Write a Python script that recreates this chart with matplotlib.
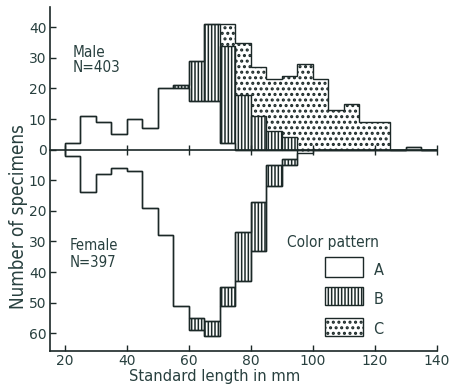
import numpy as np
import matplotlib
matplotlib.use('Agg')
import matplotlib.pyplot as plt
from matplotlib.patches import Rectangle
from matplotlib.ticker import FuncFormatter

# ---------------- data ----------------
bin_edges = [20, 25, 30, 35, 40, 45, 50, 55, 60, 65, 70, 75, 80, 85, 90, 95,
             100, 105, 110, 115, 120, 125, 130, 135, 140]
male_A = [2, 11, 9, 5, 10, 7, 20, 20, 16, 16, 2, 0, 0, 0, 0, 0, 0, 0, 0, 0, 0, 0, 1, 0]
male_B = [0, 0, 0, 0, 0, 0, 0, 1, 13, 25, 32, 18, 11, 6, 4, 0, 0, 0, 0, 0, 0, 0, 0, 0]
male_C = [0, 0, 0, 0, 0, 0, 0, 0, 0, 0, 7, 17, 16, 17, 20, 28, 23, 13, 15, 9, 9, 0, 0, 0]
female_A = [2, 14, 8, 6, 7, 19, 28, 51, 55, 56, 45, 27, 17, 5, 3, 0, 0, 0, 0, 0, 0, 0, 0, 0]
female_B = [0, 0, 0, 0, 0, 0, 0, 0, 4, 5, 6, 16, 16, 7, 2, 0, 0, 0, 0, 0, 0, 0, 0, 0]
female_C = [0, 0, 0, 0, 0, 0, 0, 0, 0, 0, 0, 0, 0, 0, 0, 1, 0, 0, 0, 0, 0, 0, 0, 0]
x_ticks = [20, 40, 60, 80, 100, 120, 140]
y_ticks = [-60, -50, -40, -30, -20, -10, 0, 10, 20, 30, 40]
pattern_names = ['A', 'B', 'C']
male_label = ['Male', 'N=403']
female_label = ['Female', 'N=397']

# ---------------- style ----------------
DARK = '#1b2827'
TXT = '#28403f'
HATCH_B = '|||||'
HATCH_C = '...'
LW_B = 1.1
LW_C = 1.45
plt.rcParams['hatch.color'] = DARK
plt.rcParams['hatch.linewidth'] = LW_B
plt.rcParams['font.family'] = ['DejaVu Sans']

W, H = 451, 389
fig = plt.figure(figsize=(W / 100, H / 100), dpi=100)
fig.patch.set_facecolor('white')
ax = fig.add_axes([50 / W, 1 - 351 / H, (436.7 - 50) / W, (351 - 7) / H])
ax.set_xlim(15.16, 140)
ax.set_ylim(-65.8, 46.6)

edges = np.array(bin_edges, float)
left = edges[:-1]
width = np.diff(edges)


def draw_sex(A, B, C, sign):
    A = np.array(A, float)
    B = np.array(B, float)
    C = np.array(C, float)
    m = C > 0
    plt.rcParams['hatch.linewidth'] = LW_C
    ax.bar(left[m], sign * C[m], width[m], bottom=sign * (A + B)[m], align='edge',
           color='white', edgecolor=DARK, linewidth=0, hatch=HATCH_C, zorder=2)
    plt.rcParams['hatch.linewidth'] = LW_B
    m = B > 0
    ax.bar(left[m], sign * B[m], width[m], bottom=sign * A[m], align='edge',
           color='white', edgecolor=DARK, linewidth=1.0, hatch=HATCH_B, zorder=3)
    ax.stairs(sign * A, edges, baseline=0, fill=False, color=DARK, lw=1.0, zorder=4)
    ax.stairs(sign * (A + B + C), edges, baseline=0, fill=False, color=DARK, lw=1.0, zorder=4)


draw_sex(male_A, male_B, male_C, 1)
draw_sex(female_A, female_B, female_C, -1)

# zero line with crossing ticks
xl = ax.get_xlim()
ax.plot([xl[0], xl[1]], [0, 0], color=DARK, lw=1.2, zorder=5, clip_on=False)
ax.plot(x_ticks, [0] * len(x_ticks), ls='none', marker='|', ms=7, mew=1.0,
        color=DARK, zorder=5, clip_on=False)

for s in ['top', 'right']:
    ax.spines[s].set_visible(False)
for s in ['left', 'bottom']:
    ax.spines[s].set_color(DARK)
    ax.spines[s].set_linewidth(1.2)

ax.set_xticks(x_ticks)
ax.set_yticks(y_ticks)
ax.yaxis.set_major_formatter(FuncFormatter(lambda v, p: f'{abs(int(round(v)))}'))
ax.tick_params(direction='in', length=4, width=1.0, color=DARK, labelcolor=TXT,
               labelsize=10, pad=2.5)


def P(x, y):
    return x / W, 1 - y / H


cond = dict(family='DejaVu Sans', fontstretch='condensed', color=TXT)

xlab = fig.text(*P(215, 381), 'Standard length in mm', ha='center', va='baseline',
                fontsize=11, **cond)
ylab = fig.text(*P(18.5, 217), 'Number of specimens', ha='center', va='center',
                rotation=90, fontsize=13.5, **cond)
m1 = fig.text(*P(72.7, 56.7), male_label[0], ha='left', va='baseline', fontsize=11, **cond)
m2 = fig.text(*P(72.7, 71.7), male_label[1], ha='left', va='baseline', fontsize=11, **cond)
f1 = fig.text(*P(70, 250), female_label[0], ha='left', va='baseline', fontsize=11, **cond)
f2 = fig.text(*P(70, 266.7), female_label[1], ha='left', va='baseline', fontsize=11, **cond)
cp = fig.text(*P(286.7, 247), 'Color pattern', ha='left', va='baseline', fontsize=11, **cond)

# legend boxes
box_y = [(257.3, 276.7), (286.7, 305.0), (317.7, 336.0)]
box_hatch = [None, HATCH_B, HATCH_C]
box_hlw = [LW_B, LW_B, LW_C]
letters = []
for name, (y0, y1), hz, hl in zip(pattern_names, box_y, box_hatch, box_hlw):
    plt.rcParams['hatch.linewidth'] = hl
    r = Rectangle(P(325, y1), (363.3 - 325) / W, (y1 - y0) / H, transform=fig.transFigure,
                  facecolor='white', edgecolor=DARK, linewidth=1.0, hatch=hz)
    fig.add_artist(r)
    letters.append(fig.text(*P(373.5, y1 - 1.5), name, ha='left', va='baseline',
                            fontsize=12, **cond))
plt.rcParams['hatch.linewidth'] = LW_B

fig.canvas.draw()
rend = fig.canvas.get_renderer()


def fit_w(t, target):
    for _ in range(2):
        bb = t.get_window_extent(rend)
        t.set_fontsize(t.get_fontsize() * target / bb.width)


fit_w(xlab, 172)
fit_w(m2, 48)
m1.set_fontsize(m2.get_fontsize())
fit_w(f2, 46.7)
f1.set_fontsize(f2.get_fontsize())
fit_w(cp, 91.6)
for t in letters:
    t.set_fontsize(cp.get_fontsize() * 1.05)

fig.savefig('out.png', dpi=100, facecolor='white')
